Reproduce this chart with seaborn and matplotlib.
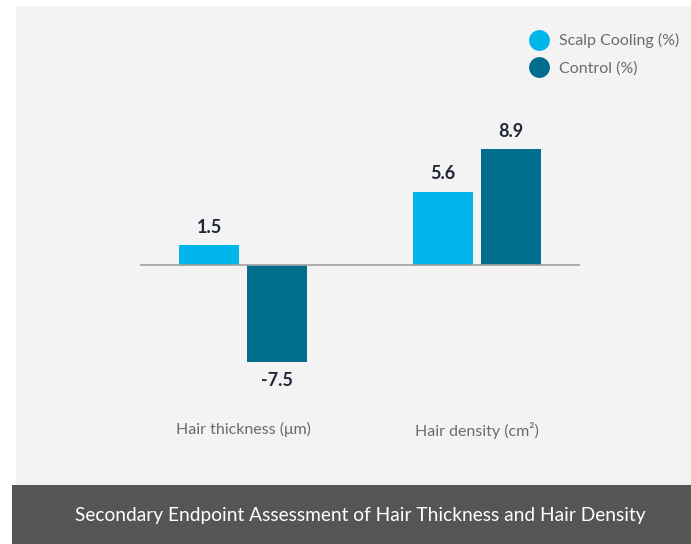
import matplotlib
matplotlib.use("Agg")
import matplotlib.pyplot as plt
from matplotlib.patches import Rectangle
from matplotlib.lines import Line2D
import seaborn as sns
import pandas as pd

# Data
metrics = ["Hair thickness (μm)", "Hair density (cm²)"]
groups = ["Scalp Cooling (%)", "Control (%)"]
scalp_cooling = [1.5, 5.6]
control = [-7.5, 8.9]
colors = ["#00b5ea", "#006e8c"]
title = "Secondary Endpoint Assessment of Hair Thickness and Hair Density"

df = pd.DataFrame({
    "metric": metrics * 2,
    "group": [groups[0]] * 2 + [groups[1]] * 2,
    "value": scalp_cooling + control,
})

sns.set_theme(style="white")
plt.rcParams["font.family"] = ["Lato", "DejaVu Sans"]

W, H = 691, 544
fig = plt.figure(figsize=(W / 100, H / 100), dpi=100)
fig.patch.set_facecolor("white")

# Light panel behind the chart and dark caption band
fig.add_artist(Rectangle((16 / W, (H - 485) / H), 1 - 16 / W, (485 - 6) / H,
                         transform=fig.transFigure, facecolor="#f3f3f3",
                         edgecolor="none", zorder=0))
fig.add_artist(Rectangle((12 / W, 0), 1 - 12 / W, (H - 485) / H,
                         transform=fig.transFigure, facecolor="#575553",
                         edgecolor="none", zorder=0))
fig.text(360 / W, (H - 516) / H, title, color="white", fontsize=13.8,
         ha="center", va="center")

ax_top, ax_bot = 109, 401
ax = fig.add_axes([140 / W, (H - ax_bot) / H, 440 / W, (ax_bot - ax_top) / H])
ax.set_facecolor("none")

sns.barplot(data=df, x="metric", y="value", hue="group", hue_order=groups,
            palette=colors, width=0.58, gap=0.12, errorbar=None,
            legend=False, ax=ax, saturation=1, zorder=2, linewidth=0)

ax.set_ylim(-10.5, 12)
ax.set_xlim(-0.44, 1.44)
ax.axhline(0, color="#a0a0a0", lw=1.2, zorder=3)

for cont in ax.containers:
    ax.bar_label(cont, fmt="%.1f", padding=7, fontsize=13, fontweight="bold",
                 color="#1f2638")

for s in ax.spines.values():
    s.set_visible(False)
ax.set_yticks([])
ax.tick_params(axis="x", length=0, pad=15, labelsize=11.5, labelcolor="#6b6b6b")
ax.set_xlabel("")
ax.set_ylabel("")

handles = [Line2D([0], [0], marker="o", linestyle="none", markersize=15,
                  markerfacecolor=c, markeredgecolor="none") for c in colors]
leg = fig.legend(handles, groups, loc="upper left",
                 bbox_to_anchor=(521 / W, (H - 27) / H), frameon=False,
                 fontsize=11.5, labelcolor="#6b6b6b", handletextpad=0.45,
                 labelspacing=0.8, handlelength=1.5, borderaxespad=0)

fig.savefig("out.png", dpi=100)
